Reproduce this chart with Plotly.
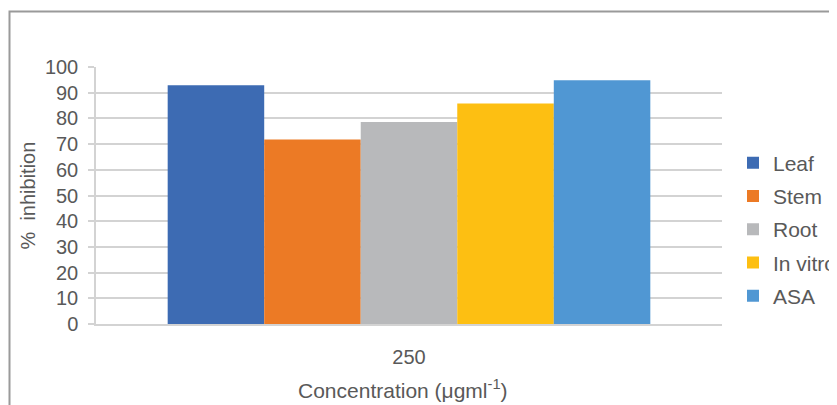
import plotly.graph_objects as go

categories = ["250"]
series_names = ["Leaf", "Stem", "Root", "In vitro", "ASA"]
leaf = [92.9]
stem = [71.8]
root = [78.6]
in_vitro = [85.8]
asa = [94.8]
series_values = [leaf, stem, root, in_vitro, asa]
colors = ["#3d6bb3", "#ec7a25", "#b8b9bb", "#fdbf12", "#5097d3"]
y_ticks = list(range(0, 101, 10))

FONT = "Liberation Sans, Arial, sans-serif"
TXT = "#595959"
GRID = "#d3d3d3"

fig = go.Figure()
for name, vals, c in zip(series_names, series_values, colors):
    fig.add_trace(go.Bar(x=categories, y=vals, name=name, marker=dict(color=c, line=dict(width=0)),
                         legendgroup=name))

# the page body has an 8px margin: convert screen pixels to figure pixels
OFF = 8
W, H = 837, 405
SL, SR, ST, SB = 96, 722, 67, 324  # plot area in screen pixels
L = SL - OFF
T = ST - OFF
R = W - (SR - OFF)
B = H - (SB - OFF)
pw = SR - SL
ph = SB - ST

def px_x(p):
    return (p - SL) / pw

def px_y(p):
    return (SB - p) / ph

fig.update_layout(
    width=W, height=H,
    margin=dict(l=L, r=R, t=T, b=B, autoexpand=False),
    paper_bgcolor="white", plot_bgcolor="white",
    barmode="group", bargap=0.229, bargroupgap=0,
    font=dict(family=FONT, size=20, color=TXT),
    showlegend=True,
    legend=dict(x=px_x(733), xanchor="left", y=px_y(229.5), yanchor="middle",
                font=dict(size=21, color=TXT), tracegroupgap=3,
                bgcolor="rgba(0,0,0,0)", itemclick=False),
    xaxis=dict(type="category", showgrid=False, showline=True, linecolor=GRID, linewidth=1.5,
               ticks="", ticklabelstandoff=14, tickfont=dict(size=20, color=TXT),
               zeroline=False),
    yaxis=dict(range=[0, 100], tickvals=y_ticks, showgrid=True, gridcolor=GRID, gridwidth=1.5,
               showline=True, linecolor=GRID, linewidth=1.5, ticks="outside", ticklen=6,
               tickcolor=GRID, tickwidth=1.5, ticklabelstandoff=6,
               tickfont=dict(size=20, color=TXT), zeroline=False),
    annotations=[
        dict(text="%  inhibition", xref="paper", yref="paper", x=px_x(27.5), y=px_y(196),
             textangle=-90, showarrow=False, xanchor="center", yanchor="middle",
             font=dict(size=20, color=TXT)),
        dict(text="Concentration (μgml<sup>-1</sup>)", xref="paper", yref="paper",
             x=px_x(403), y=px_y(389), showarrow=False, xanchor="center", yanchor="middle",
             font=dict(size=21, color=TXT)),
    ],
    shapes=[
        dict(type="rect", xref="paper", yref="paper", x0=px_x(9.5), x1=px_x(900),
             y0=px_y(500), y1=px_y(11.5), line=dict(color="#9a9a9a", width=2),
             fillcolor="rgba(0,0,0,0)", layer="below"),
    ],
)

fig.write_html("out.html")
